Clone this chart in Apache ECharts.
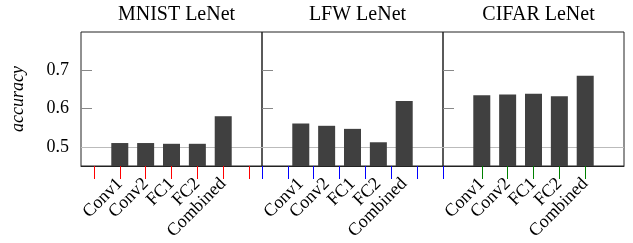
<!DOCTYPE html>
<html>
<head>
<meta charset="utf-8">
<script src="https://cdn.jsdelivr.net/npm/echarts@6/dist/echarts.min.js"></script>
<style>
  html, body { margin: 0; padding: 0; background: #fff; }
  #chart { width: 633px; height: 243px; }
</style>
</head>
<body>
<div id="chart"></div>
<script>
const categories = ['Conv1', 'Conv2', 'FC1', 'FC2', 'Combined']
const panelTitles = ['MNIST LeNet', 'LFW LeNet', 'CIFAR LeNet']
const mnistAcc = [0.510, 0.510, 0.508, 0.508, 0.580]
const lfwAcc = [0.561, 0.555, 0.547, 0.512, 0.620]
const cifarAcc = [0.635, 0.637, 0.639, 0.632, 0.686]
const yTicks = [0.5, 0.6, 0.7]
const baseline = 0.5

const panels = [mnistAcc, lfwAcc, cifarAcc]
const font = 'Liberation Serif, Times New Roman, serif'
const panelLeft = [81, 262, 443]
const panelWidth = 181

const axisCats = ['', ...categories, '']

const tickVariants = [
  { show: true, alignWithLabel: true, interval: 0, length: 13, lineStyle: { color: 'red' } },
  { show: true, length: 13, lineStyle: { color: 'blue' } },
  { show: true, alignWithLabel: true, customValues: categories, length: 13, lineStyle: { color: 'green' } }
]

const chart = echarts.init(document.getElementById('chart'))

const option = {
  backgroundColor: '#fff',
  animation: false,
  title: panels.map((_, i) => ({
    text: panelTitles[i],
    left: panelLeft[i] + panelWidth / 2,
    top: 0,
    textAlign: 'center',
    textStyle: { fontFamily: font, fontSize: 20, fontWeight: 'normal', color: '#000' }
  })),
  grid: panels.map((_, i) => ({
    left: panelLeft[i],
    top: 32,
    width: panelWidth,
    height: 134,
    show: true,
    borderColor: '#222',
    borderWidth: 1,
    backgroundColor: 'transparent'
  })),
  xAxis: panels.map((_, i) => ({
    type: 'category',
    gridIndex: i,
    data: axisCats,
    boundaryGap: true,
    axisLine: { show: true, onZero: false, lineStyle: { color: '#222' } },
    splitLine: { show: false },
    axisTick: tickVariants[i],
    axisLabel: {
      interval: 0,
      rotate: 45,
      margin: 15,
      fontFamily: font,
      fontSize: 18,
      color: '#000'
    }
  })),
  yAxis: panels.map((_, i) => ({
    type: 'value',
    gridIndex: i,
    min: 0.45,
    max: 0.8,
    name: i === 0 ? 'accuracy' : '',
    nameLocation: 'middle',
    nameGap: 54,
    nameTextStyle: { fontFamily: font, fontSize: 18, fontStyle: 'italic', color: '#000' },
    axisLine: { show: false, onZero: false },
    splitLine: { show: false },
    axisTick: {
      show: true,
      inside: true,
      customValues: yTicks,
      length: 11,
      lineStyle: { color: '#888' }
    },
    axisLabel: {
      show: i === 0,
      customValues: yTicks,
      formatter: v => v.toFixed(1),
      margin: 12,
      fontFamily: font,
      fontSize: 18,
      color: '#000'
    }
  })),
  series: panels.map((vals, i) => ({
    type: 'bar',
    xAxisIndex: i,
    yAxisIndex: i,
    barWidth: 17,
    itemStyle: { color: '#404040' },
    data: [null, ...vals, null],
    markLine: {
      silent: true,
      z: 1,
      symbol: 'none',
      label: { show: false },
      lineStyle: { color: '#bbb', type: 'solid', width: 1 },
      data: [{ yAxis: baseline }]
    }
  }))
}

chart.setOption(option)
</script>
</body>
</html>
